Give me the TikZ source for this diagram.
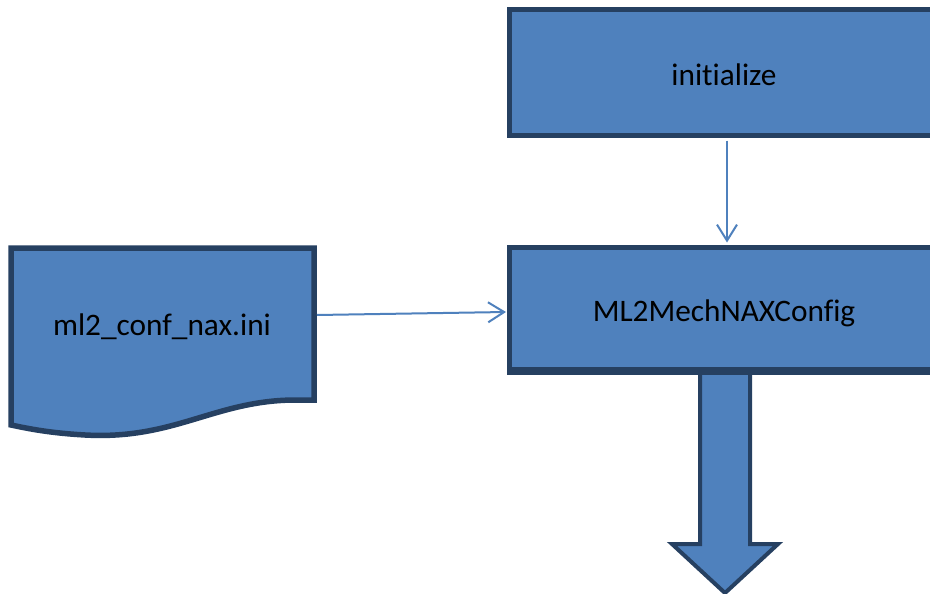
\documentclass[tikz,border=0pt]{standalone}
\usepackage{fontspec}
\setmainfont{Carlito}[Ligatures=NoCommon]
\usetikzlibrary{arrows.meta,calc}
\definecolor{boxfill}{HTML}{4F81BD}
\definecolor{boxline}{RGB}{38,64,97}
\tikzset{
  procbox/.style={draw=boxline, fill=boxfill, line width=5pt, rectangle,
    minimum width=429pt},
  boxtext/.style={font=\fontsize{31.3}{36}\selectfont, text=black},
  flowline/.style={draw=boxfill, line width=2pt,
    -{Straight Barb[length=16pt,width=20pt,line width=2pt]}},
  bigarrow/.style={draw=boxline, fill=boxfill, line width=4pt, line join=miter}
}
\begin{document}
\begin{tikzpicture}[x=1pt,y=-1pt]
  \useasboundingbox (0,0) rectangle (930,594);
  \clip (0,0) rectangle (930,594);
  \fill[white] (0,0) rectangle (930,594);

  % process boxes, labels set a little below the box centre
  \node[procbox, minimum height=126pt,
        label={[boxtext, yshift=-2pt]center:initialize}] (init) at (724,72.5) {};
  \node[procbox, minimum height=122pt,
        label={[boxtext, yshift=-5pt]center:ML2MechNAXConfig}] (cfg) at (724,308.5) {};

  % wide downward arrow under the config box
  \draw[bigarrow]
    ($(cfg.south)+(-24,0)$) -- ($(cfg.south)+(26,0)$) --
    ($(cfg.south)+(26,172)$) -- ($(cfg.south)+(54,172)$) --
    ($(cfg.south)+(1,221)$) -- ($(cfg.south)+(-52,172)$) --
    ($(cfg.south)+(-24,172)$) -- cycle;
  \draw[draw=boxline, line width=5pt] (cfg.south west) -- (cfg.south east);

  % configuration file (document shape)
  \draw[draw=boxline, fill=boxfill, line width=5.5pt, line join=miter]
    (11,248) -- (314,248) -- (314,400) -- (296,400)
    .. controls (215,400) and (175,440) .. (85,435)
    .. controls (50,433) and (30,429) .. (11,425) -- cycle;
  \node[boxtext] (doc) at (162,327) {ml2\_conf\_nax.ini};
  \coordinate (docR) at (317,315);
  \coordinate (cfgIn) at (506,312);

  % connectors
  \draw[flowline] (docR) -- (cfgIn);
  \draw[flowline] ($(init.south)+(3,2.5)$) -- ($(cfg.north)+(3,-2.5)$);
\end{tikzpicture}
\end{document}
